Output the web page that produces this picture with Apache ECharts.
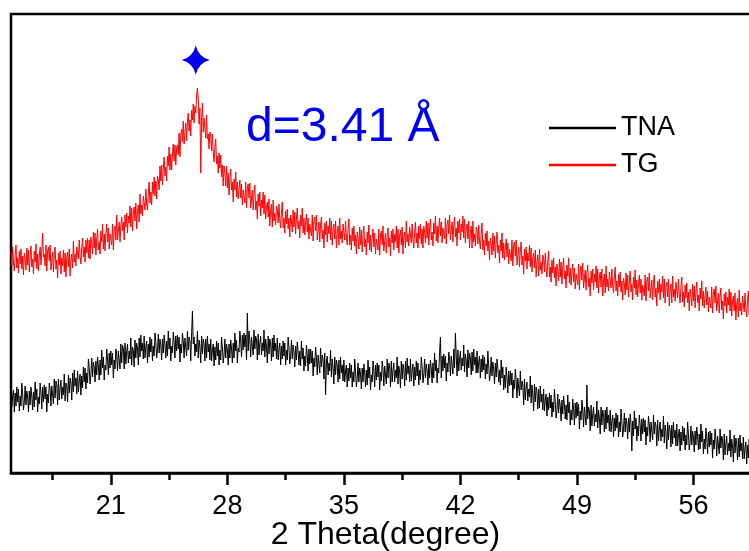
<!DOCTYPE html>
<html>
<head>
<meta charset="utf-8">
<script src="https://cdn.jsdelivr.net/npm/echarts@6/dist/echarts.min.js"></script>
<style>
  html, body { margin: 0; padding: 0; background: #fff; }
  #chart { width: 749px; height: 551px; }
</style>
</head>
<body>
<div id="chart"></div>
<script>
// XRD scan: 2θ from 15.00° to 60.00° in 0.05° steps (arbitrary intensity units)
const thetaStart = 15.0;
const thetaStep = 0.05;

// TG pattern, one row per degree (15.xx ... 59.xx), then 60.00
const tgIntensity = [
  221, 207, 226, 210, 202, 218, 228, 205, 215, 200, 222, 209, 224, 204, 217, 198, 220, 214, 203, 225,
  208, 223, 201, 217, 227, 206, 214, 199, 222, 211, 229, 204, 219, 202, 217, 226, 208, 222, 240, 216,
  219, 207, 228, 202, 222, 226, 212, 228, 203, 212, 221, 201, 218, 226, 204, 213, 195, 220, 208, 222,
  199, 215, 207, 223, 201, 220, 196, 216, 221, 206, 224, 197, 213, 219, 205, 232, 211, 219, 207, 226,
  228, 214, 233, 217, 209, 225, 235, 216, 226, 211, 233, 220, 235, 215, 233, 214, 236, 230, 219, 241,
  225, 240, 218, 234, 244, 223, 231, 219, 242, 231, 249, 224, 239, 222, 240, 249, 231, 245, 224, 239,
  240, 228, 249, 223, 243, 247, 233, 258, 233, 242, 251, 231, 248, 256, 242, 251, 233, 258, 246, 260,
  240, 257, 250, 267, 246, 265, 242, 260, 266, 252, 270, 244, 261, 268, 251, 279, 259, 268, 257, 277,
  276, 263, 284, 269, 263, 280, 291, 270, 281, 268, 291, 279, 296, 277, 292, 274, 297, 293, 283, 307,
  292, 308, 288, 305, 316, 297, 306, 292, 317, 307, 326, 303, 319, 303, 319, 329, 312, 328, 308, 325,
  328, 318, 340, 316, 338, 344, 331, 352, 329, 340, 350, 332, 351, 360, 342, 353, 337, 363, 353, 369,
  350, 367, 360, 377, 385, 374, 349, 365, 300, 353, 370, 341, 355, 357, 335, 358, 334, 339, 324, 341,
  338, 322, 339, 321, 311, 326, 334, 309, 317, 300, 320, 305, 318, 296, 308, 287, 307, 300, 287, 307,
  285, 300, 278, 294, 304, 283, 291, 271, 294, 283, 301, 276, 291, 274, 284, 293, 275, 289, 268, 283,
  282, 270, 291, 265, 285, 289, 275, 290, 265, 274, 283, 263, 280, 288, 263, 272, 254, 279, 267, 281,
  257, 273, 265, 281, 259, 278, 254, 266, 271, 256, 274, 247, 263, 269, 246, 273, 252, 260, 248, 267,
  264, 250, 269, 253, 245, 261, 271, 245, 255, 240, 262, 249, 264, 244, 255, 236, 258, 252, 241, 263,
  246, 261, 239, 255, 265, 244, 252, 235, 258, 247, 265, 240, 255, 238, 250, 259, 241, 255, 234, 249,
  249, 237, 258, 232, 252, 256, 242, 258, 233, 242, 251, 231, 248, 256, 234, 243, 225, 250, 238, 252,
  231, 247, 239, 255, 233, 252, 228, 244, 249, 234, 252, 225, 241, 247, 228, 255, 234, 242, 230, 249,
  247, 233, 252, 236, 228, 244, 254, 228, 238, 223, 245, 232, 247, 227, 238, 219, 241, 235, 224, 246,
  228, 243, 221, 237, 247, 226, 234, 218, 241, 230, 248, 223, 238, 221, 235, 244, 226, 240, 219, 234,
  235, 223, 244, 218, 238, 242, 228, 247, 222, 231, 240, 220, 237, 245, 226, 235, 217, 242, 230, 244,
  223, 239, 231, 247, 225, 244, 220, 238, 243, 228, 246, 219, 235, 241, 225, 252, 231, 239, 227, 246,
  244, 230, 249, 233, 225, 241, 251, 230, 240, 225, 247, 234, 249, 229, 244, 225, 247, 241, 230, 252,
  235, 250, 228, 244, 254, 233, 241, 227, 250, 239, 257, 232, 247, 230, 246, 255, 237, 251, 230, 245,
  246, 234, 255, 229, 249, 253, 239, 258, 233, 242, 251, 231, 248, 256, 236, 245, 227, 252, 240, 254,
  233, 249, 241, 257, 235, 254, 230, 244, 249, 234, 252, 225, 241, 247, 225, 252, 231, 239, 227, 246,
  243, 229, 248, 232, 224, 240, 250, 223, 233, 218, 240, 227, 242, 222, 232, 213, 235, 229, 218, 240,
  222, 237, 215, 231, 241, 220, 228, 210, 233, 222, 240, 215, 230, 213, 225, 234, 216, 230, 209, 224,
  224, 212, 233, 207, 227, 231, 217, 233, 208, 217, 226, 206, 223, 231, 208, 217, 199, 224, 212, 226,
  204, 220, 212, 228, 206, 225, 201, 215, 220, 205, 223, 196, 212, 218, 197, 224, 203, 211, 199, 218,
  215, 201, 220, 204, 196, 212, 222, 196, 206, 191, 213, 200, 215, 195, 206, 187, 209, 203, 192, 214,
  196, 211, 189, 205, 215, 194, 202, 185, 208, 197, 215, 190, 205, 188, 200, 209, 191, 205, 184, 199,
  200, 188, 209, 183, 203, 207, 193, 210, 185, 194, 203, 183, 200, 208, 186, 195, 177, 202, 190, 204,
  183, 199, 191, 207, 185, 204, 180, 196, 201, 186, 204, 177, 193, 199, 180, 207, 186, 194, 182, 201,
  199, 185, 204, 188, 180, 196, 206, 182, 192, 177, 199, 186, 201, 181, 192, 173, 195, 189, 178, 200,
  183, 198, 176, 192, 202, 181, 189, 173, 196, 185, 203, 178, 193, 176, 189, 198, 180, 194, 173, 188,
  189, 177, 198, 172, 192, 196, 182, 200, 175, 184, 193, 173, 190, 198, 176, 185, 167, 192, 180, 194,
  173, 189, 181, 197, 175, 194, 170, 186, 191, 176, 194, 167, 183, 189, 170, 197, 176, 184, 172, 191,
  189, 175, 194, 178, 170, 186, 196, 171, 181, 166, 188, 175, 190, 170, 181, 162, 184, 178, 167, 189,
  172, 187, 165, 181, 191, 170, 178, 162, 185, 174, 192, 167, 182, 165, 177, 186, 168, 182, 161, 176,
  177, 165, 186, 160, 180, 184, 170, 187, 162, 171, 180, 160, 177, 185, 163, 172, 154, 179, 167, 181,
  160, 176, 168, 184, 162, 181, 157, 172, 177, 162, 180, 153, 169, 175, 156, 183, 162, 170, 158, 177,
  175, 161, 180, 164, 156, 172, 182, 158, 168, 153, 175, 162, 177, 157, 168, 149, 171, 165, 154, 176,
  164
];

// TNA pattern, same 2θ grid
const tnaIntensity = [
  88, 66, 77, 83, 61, 80, 67, 86, 71, 84, 62, 77, 67, 90, 79, 63, 71, 87, 68, 82,
  76, 61, 82, 68, 86, 77, 63, 81, 66, 91, 73, 84, 61, 76, 69, 90, 80, 64, 86, 71,
  88, 74, 86, 61, 79, 70, 90, 84, 67, 87, 78, 69, 94, 75, 92, 88, 68, 94, 73, 85,
  93, 74, 86, 78, 99, 72, 90, 87, 71, 98, 80, 95, 90, 73, 100, 81, 103, 87, 95, 79,
  102, 81, 92, 99, 78, 97, 85, 106, 91, 105, 84, 100, 90, 114, 105, 89, 98, 115, 96, 111,
  106, 91, 112, 98, 116, 107, 93, 113, 98, 123, 105, 116, 93, 108, 103, 124, 114, 98, 120, 105,
  122, 108, 120, 95, 113, 104, 124, 119, 102, 122, 113, 104, 129, 110, 128, 124, 104, 130, 109, 121,
  129, 110, 122, 114, 135, 108, 126, 122, 106, 133, 115, 130, 125, 108, 135, 116, 138, 122, 130, 114,
  137, 115, 126, 132, 110, 129, 116, 136, 121, 134, 112, 127, 117, 140, 131, 115, 123, 139, 120, 134,
  128, 113, 134, 120, 138, 129, 115, 132, 117, 142, 124, 135, 112, 127, 120, 141, 131, 115, 137, 122,
  138, 124, 136, 111, 129, 120, 140, 132, 115, 135, 126, 117, 142, 123, 136, 132, 112, 138, 162, 129,
  136, 117, 129, 121, 142, 115, 133, 126, 110, 137, 119, 134, 129, 112, 134, 115, 137, 121, 129, 113,
  134, 112, 123, 129, 107, 126, 113, 132, 117, 130, 108, 123, 113, 136, 126, 110, 118, 134, 115, 129,
  123, 108, 129, 115, 133, 124, 110, 130, 115, 140, 122, 133, 110, 125, 121, 142, 132, 116, 138, 123,
  140, 126, 138, 113, 160, 122, 142, 133, 116, 136, 127, 118, 143, 124, 137, 133, 113, 139, 118, 130,
  137, 118, 130, 122, 143, 116, 134, 126, 110, 137, 119, 134, 129, 112, 135, 116, 138, 122, 130, 114,
  135, 113, 124, 130, 108, 127, 114, 132, 117, 130, 108, 123, 113, 136, 125, 109, 117, 133, 114, 128,
  121, 106, 127, 113, 131, 122, 108, 122, 107, 132, 114, 125, 102, 117, 107, 128, 118, 102, 124, 109,
  124, 110, 122, 97, 115, 106, 126, 115, 98, 118, 109, 100, 125, 106, 118, 114, 94, 120, 78, 111,
  117, 98, 110, 102, 123, 96, 114, 105, 89, 116, 98, 113, 108, 91, 113, 94, 116, 100, 108, 92,
  113, 91, 102, 108, 86, 105, 92, 110, 95, 108, 86, 101, 91, 114, 102, 86, 94, 110, 91, 105,
  99, 84, 105, 91, 109, 100, 86, 103, 88, 113, 95, 106, 83, 98, 91, 112, 102, 86, 108, 93,
  110, 96, 108, 83, 101, 92, 112, 104, 87, 107, 98, 89, 114, 95, 110, 106, 86, 112, 91, 103,
  110, 91, 103, 95, 116, 89, 107, 101, 85, 112, 94, 109, 104, 87, 112, 93, 115, 99, 107, 91,
  114, 92, 103, 109, 87, 106, 93, 112, 97, 110, 88, 103, 93, 116, 106, 90, 98, 114, 95, 109,
  103, 88, 109, 95, 113, 104, 90, 110, 95, 120, 102, 113, 90, 105, 100, 121, 136, 95, 117, 102,
  119, 105, 117, 92, 110, 101, 121, 114, 97, 117, 108, 99, 124, 105, 140, 117, 97, 123, 102, 114,
  122, 103, 115, 107, 128, 101, 119, 112, 96, 123, 105, 120, 115, 98, 121, 102, 124, 108, 116, 100,
  122, 100, 111, 117, 95, 114, 101, 118, 103, 116, 94, 109, 99, 122, 108, 92, 100, 116, 97, 111,
  104, 89, 110, 96, 114, 105, 91, 103, 88, 113, 95, 106, 83, 98, 85, 106, 96, 80, 102, 87,
  102, 88, 100, 75, 93, 84, 104, 92, 75, 95, 86, 77, 102, 83, 92, 88, 68, 94, 73, 85,
  91, 72, 84, 76, 97, 70, 88, 78, 62, 89, 71, 86, 81, 64, 84, 65, 87, 71, 79, 63,
  84, 62, 73, 79, 57, 76, 63, 80, 65, 78, 56, 71, 61, 84, 71, 55, 63, 79, 60, 74,
  67, 52, 73, 59, 77, 68, 54, 68, 53, 78, 60, 71, 48, 63, 53, 74, 64, 48, 70, 55,
  71, 57, 69, 44, 62, 53, 73, 63, 46, 66, 57, 48, 88, 54, 66, 62, 42, 68, 47, 59,
  66, 47, 59, 51, 72, 45, 63, 55, 39, 66, 48, 63, 58, 41, 63, 44, 66, 50, 58, 42,
  63, 41, 52, 58, 36, 55, 42, 60, 45, 58, 36, 51, 41, 64, 52, 36, 44, 60, 41, 55,
  49, 34, 55, 41, 59, 50, 22, 52, 37, 62, 44, 55, 32, 47, 37, 58, 48, 32, 54, 39,
  55, 41, 53, 28, 46, 37, 57, 48, 31, 51, 42, 33, 58, 39, 51, 47, 27, 53, 32, 44,
  51, 32, 44, 36, 57, 30, 48, 40, 24, 51, 33, 48, 43, 26, 48, 29, 51, 35, 43, 27,
  49, 27, 38, 44, 22, 41, 28, 47, 32, 45, 23, 38, 28, 51, 39, 23, 31, 47, 28, 42,
  36, 21, 42, 28, 46, 37, 23, 39, 24, 49, 31, 42, 19, 34, 24, 45, 35, 19, 41, 26,
  42, 28, 40, 15, 33, 24, 44, 34, 17, 37, 28, 19, 44, 25, 37, 33, 13, 39, 18, 30,
  37, 18, 30, 22, 43, 16, 34, 27, 11, 38, 20, 35, 30, 13, 35, 16, 38, 22, 30, 14,
  36, 14, 25, 31, 9, 28, 15, 34, 19, 32, 10, 25, 15, 38, 27, 11, 19, 35, 16, 30,
  22
];

const seriesNames = ['TNA', 'TG'];
const majorTicks = [21, 28, 35, 42, 49, 56];
const minorTicks = [17.5, 24.5, 31.5, 38.5, 45.5, 52.5, 59.5];
const xRange = [15, 60];
const yRange = [0, 459];

// Reflection marker (2θ, intensity) and its d-spacing note
const peakMarker = [[26.1, 413]];
const peakNote = 'd=3.41 Å';

const FONT = '"Liberation Sans", Arial, sans-serif';
const BLUE = '#0000f0';

function toPairs(values) {
  return values.map((v, i) => [+(thetaStart + i * thetaStep).toFixed(2), v]);
}

// four-pointed star with slightly concave sides
const starPath = 'path://M0,-10 Q2,-2 10,0 Q2,2 0,10 Q-2,2 -10,0 Q-2,-2 0,-10 Z';

const chart = echarts.init(document.getElementById('chart'), null, { renderer: 'canvas' });

chart.setOption({
  animation: false,
  backgroundColor: '#fff',
  grid: {
    show: true,
    borderColor: '#000',
    borderWidth: 2.5,
    left: 11,
    top: 14,
    right: -11,
    bottom: 78,
    containLabel: false,
    outerBoundsMode: 'none'
  },
  legend: {
    orient: 'vertical',
    left: 544,
    top: 108,
    itemWidth: 67,
    itemHeight: 2.5,
    itemGap: 7,
    icon: 'rect',
    data: seriesNames,
    textStyle: { fontFamily: FONT, fontSize: 27, color: '#000', lineHeight: 30, padding: [0, 0, 0, 0] }
  },
  xAxis: [
    {
      type: 'value',
      min: xRange[0],
      max: xRange[1],
      name: '2 Theta(degree)',
      nameLocation: 'middle',
      nameGap: 46,
      nameMoveOverlap: false,
      nameTextStyle: { fontFamily: FONT, fontSize: 32, color: '#000' },
      axisLine: { show: true, lineStyle: { color: '#000', width: 2.5 } },
      axisTick: { show: true, inside: false, length: 12, customValues: majorTicks, lineStyle: { color: '#000', width: 2.5 } },
      axisLabel: { show: true, margin: 20, customValues: majorTicks, fontFamily: FONT, fontSize: 27, color: '#000' },
      splitLine: { show: false }
    },
    {
      type: 'value',
      position: 'bottom',
      min: xRange[0],
      max: xRange[1],
      axisLine: { show: false },
      axisTick: { show: true, inside: false, length: 7, customValues: minorTicks, lineStyle: { color: '#000', width: 2.5 } },
      axisLabel: { show: false },
      splitLine: { show: false }
    }
  ],
  yAxis: {
    type: 'value',
    min: yRange[0],
    max: yRange[1],
    show: false,
    splitLine: { show: false }
  },
  graphic: [
    {
      type: 'text',
      left: 246,
      top: 104,
      style: { text: peakNote, fontFamily: FONT, fontSize: 48, fill: BLUE }
    }
  ],
  series: [
    {
      name: seriesNames[0],
      type: 'line',
      data: toPairs(tnaIntensity),
      showSymbol: false,
      symbol: 'none',
      color: '#000',
      lineStyle: { color: '#000', width: 1 },
      z: 3
    },
    {
      name: seriesNames[1],
      type: 'line',
      data: toPairs(tgIntensity),
      showSymbol: false,
      symbol: 'none',
      color: '#ff0000',
      lineStyle: { color: '#ff0000', width: 1 },
      z: 3
    },
    {
      name: 'peak',
      type: 'scatter',
      data: peakMarker,
      symbol: starPath,
      symbolSize: [28, 29],
      itemStyle: { color: BLUE, opacity: 1 },
      z: 4
    }
  ]
});
</script>
</body>
</html>
